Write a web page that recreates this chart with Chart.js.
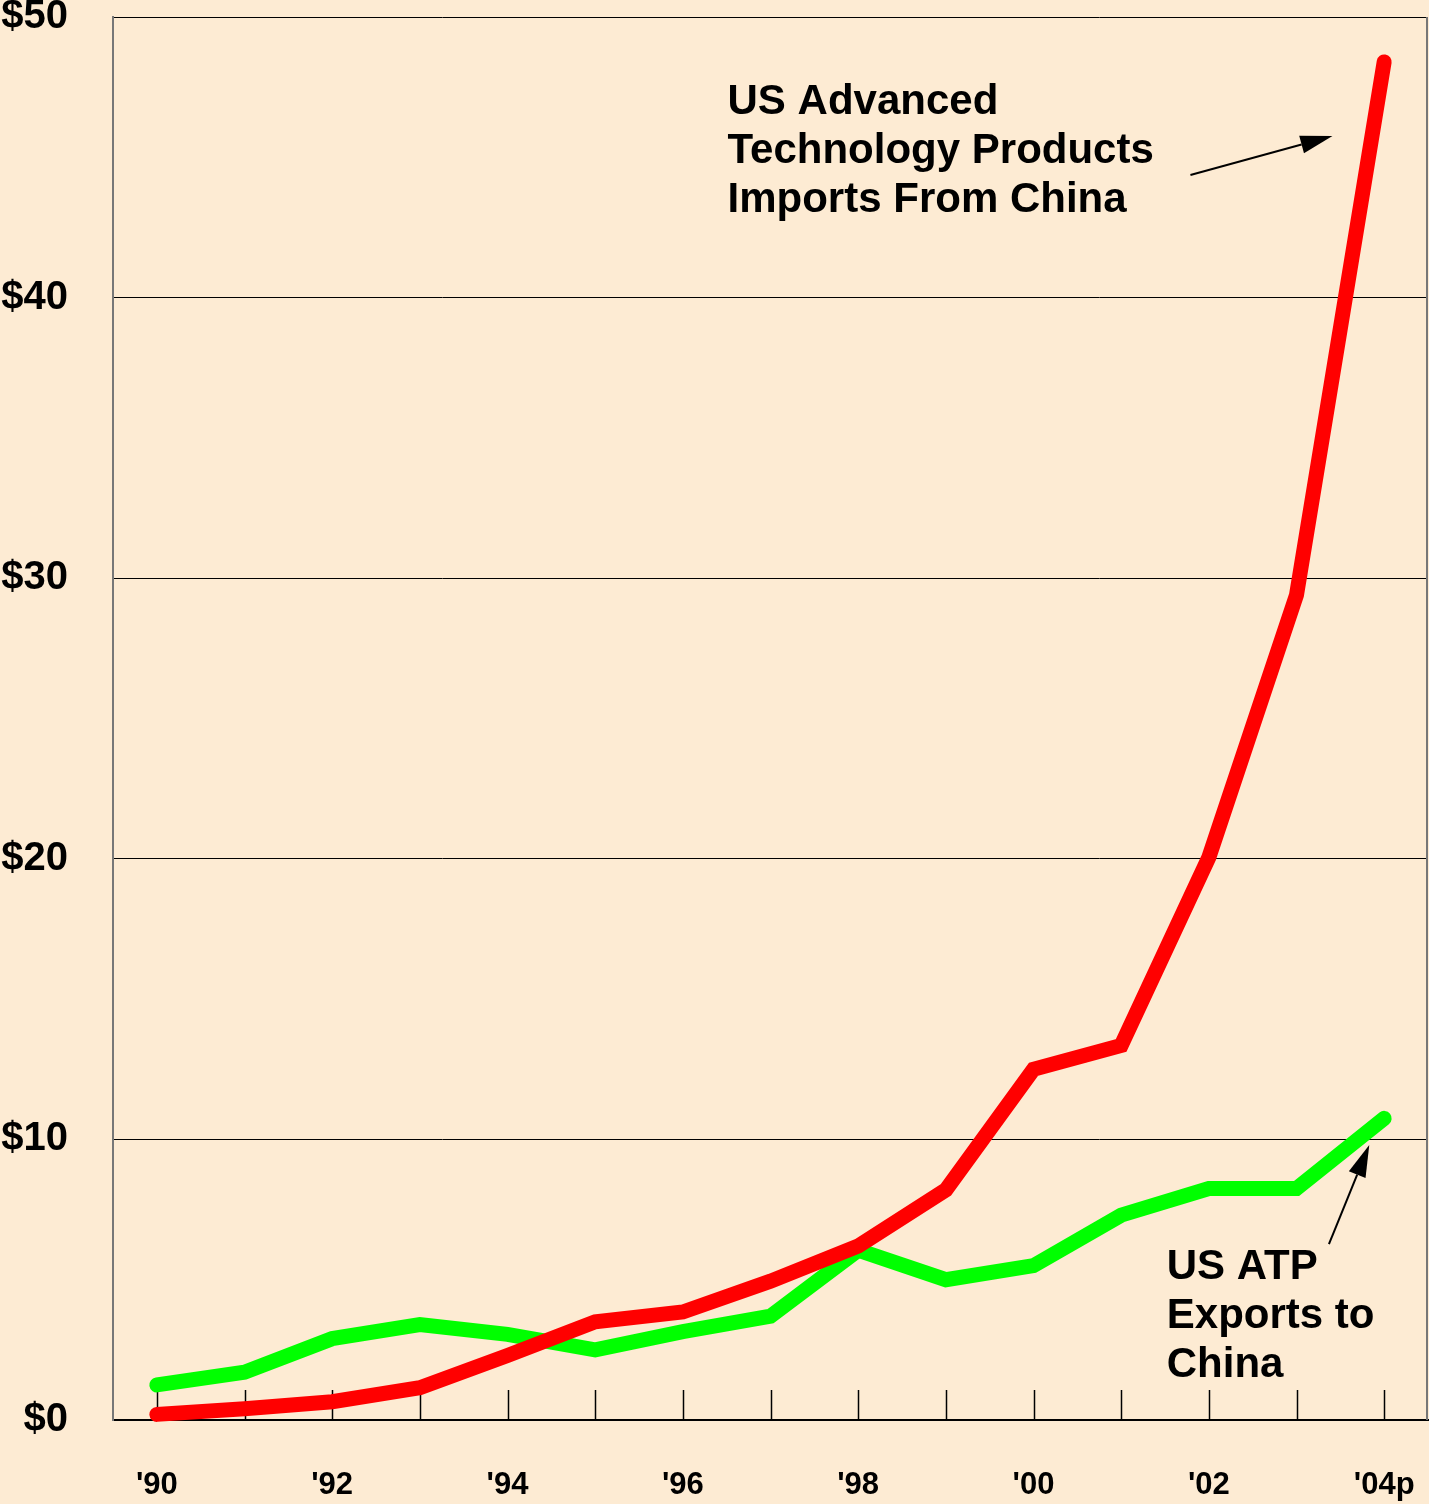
<!DOCTYPE html>
<html>
<head>
<meta charset="utf-8">
<script src="https://cdn.jsdelivr.net/npm/chart.js@4.4.1/dist/chart.umd.min.js"></script>
<style>
  html, body { margin: 0; padding: 0; background: #FDEBD3; }
  #wrap { width: 1429px; height: 1504px; position: relative; }
</style>
</head>
<body>
<div id="wrap"><canvas id="atp"></canvas></div>
<script>
const YEARS   = ["'90","'91","'92","'93","'94","'95","'96","'97","'98","'99","'00","'01","'02","'03","'04p"];
const IMPORTS = [0.2, 0.4, 0.65, 1.15, 2.3, 3.5, 3.85, 4.95, 6.2, 8.2, 12.5, 13.35, 20.05, 29.4, 48.4];
const EXPORTS = [1.25, 1.7, 2.9, 3.4, 3.05, 2.5, 3.15, 3.7, 6.05, 5.0, 5.5, 7.3, 8.25, 8.25, 10.75];
const Y_TICKS = [0, 10, 20, 30, 40, 50];

const BG = '#FDEBD3';
const FONT = '"Liberation Sans", Arial, sans-serif';

// annotations placed in data space (category index, value)
const NOTES = [
  { lines: ['US Advanced', 'Technology Products', 'Imports From China'], x: 6.51, y: 46.97 },
  { lines: ['US ATP', 'Exports to', 'China'], x: 11.52, y: 5.42 }
];
const ARROWS = [
  { from: [11.79, 44.37], to: [13.41, 45.76] },
  { from: [13.37, 6.27],  to: [13.83, 9.8] }
];

const decor = {
  id: 'decor',
  beforeDraw(chart) {
    const c = chart.ctx;
    c.save();
    c.fillStyle = BG;
    c.fillRect(0, 0, chart.width, chart.height);
    c.restore();
  },
  beforeDatasetsDraw(chart) {
    const c = chart.ctx, a = chart.chartArea, xs = chart.scales.x;
    c.save();
    // year ticks rising from the baseline
    c.strokeStyle = '#000';
    c.lineWidth = 1.5;
    YEARS.forEach((_, i) => {
      const px = Math.round(xs.getPixelForValue(i)) + 0.5;
      c.beginPath();
      c.moveTo(px, a.bottom);
      c.lineTo(px, a.bottom - 30);
      c.stroke();
    });
    // right frame
    c.strokeStyle = '#777';
    c.lineWidth = 2;
    c.beginPath();
    c.moveTo(a.right - 1, a.top);
    c.lineTo(a.right - 1, a.bottom);
    c.stroke();
    c.restore();
  },
  afterDatasetsDraw(chart) {
    const c = chart.ctx, xs = chart.scales.x, ys = chart.scales.y;
    c.save();
    c.fillStyle = '#000';
    c.font = 'bold 42px ' + FONT;
    c.textBaseline = 'middle';
    c.textAlign = 'left';
    NOTES.forEach(n => {
      const px = xs.getPixelForValue(n.x), py = ys.getPixelForValue(n.y);
      n.lines.forEach((t, i) => c.fillText(t, px, py + i * 49));
    });
    ARROWS.forEach(ar => {
      const x1 = xs.getPixelForValue(ar.from[0]), y1 = ys.getPixelForValue(ar.from[1]);
      const x2 = xs.getPixelForValue(ar.to[0]),   y2 = ys.getPixelForValue(ar.to[1]);
      const ang = Math.atan2(y2 - y1, x2 - x1);
      const len = 32, half = 9;
      const bx = x2 - len * Math.cos(ang), by = y2 - len * Math.sin(ang);
      c.strokeStyle = '#000';
      c.lineWidth = 2;
      c.beginPath();
      c.moveTo(x1, y1);
      c.lineTo(bx, by);
      c.stroke();
      c.beginPath();
      c.moveTo(x2, y2);
      c.lineTo(bx + half * Math.sin(ang), by - half * Math.cos(ang));
      c.lineTo(bx - half * Math.sin(ang), by + half * Math.cos(ang));
      c.closePath();
      c.fill();
    });
    c.restore();
  }
};

new Chart(document.getElementById('atp'), {
  type: 'line',
  data: {
    labels: YEARS,
    datasets: [{
      label: 'Imports',
      data: IMPORTS,
      borderColor: '#FF0000',
      borderWidth: 15,
      borderCapStyle: 'round',
      borderJoinStyle: 'miter',
      pointRadius: 0,
      tension: 0,
      clip: false
    }, {
      label: 'Exports',
      data: EXPORTS,
      borderColor: '#00FF00',
      borderWidth: 15,
      borderCapStyle: 'round',
      borderJoinStyle: 'miter',
      pointRadius: 0,
      tension: 0,
      clip: false
    }]
  },
  options: {
    responsive: true,
    maintainAspectRatio: false,
    animation: false,
    events: [],
    layout: { padding: { top: 17, right: 1, left: 0, bottom: 0 } },
    plugins: {
      legend: { display: false },
      tooltip: { enabled: false }
    },
    scales: {
      x: {
        offset: true,
        grid: { display: false, drawTicks: false },
        border: { color: '#000', width: 2 },
        ticks: {
          autoSkip: false,
          maxRotation: 0,
          padding: 47,
          color: '#000',
          font: { family: FONT, size: 31, weight: 'bold' },
          callback: (v, i) => (i % 2 === 0 ? YEARS[i] : '')
        },
        afterFit: s => { s.height = 84; s.paddingLeft = 0; s.paddingRight = 0; }
      },
      y: {
        min: 0,
        max: 50,
        afterBuildTicks: s => { s.ticks = Y_TICKS.map(v => ({ value: v })); },
        grid: { color: '#000', lineWidth: 1, drawTicks: false },
        border: { color: '#777', width: 2 },
        ticks: {
          padding: 45,
          color: '#000',
          font: { family: FONT, size: 40, weight: 'bold' },
          callback: v => '$' + v
        },
        afterFit: s => { s.width = 113; s.paddingTop = 0; s.paddingBottom = 0; }
      }
    }
  },
  plugins: [decor]
});
</script>
</body>
</html>
